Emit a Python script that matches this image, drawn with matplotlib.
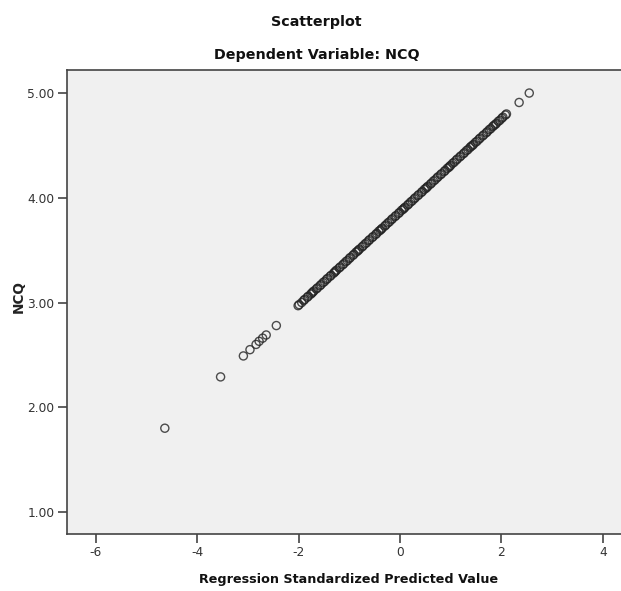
import matplotlib
matplotlib.use("Agg")
import matplotlib.pyplot as plt
from matplotlib import font_manager

# Data
pred_std = [-4.64, -3.54, -3.09, -2.96, -2.84, -2.78, -2.71, -2.64, -2.44,
            -2.01, -1.94, -1.88, -1.81, -1.74, -1.70, -1.63, -1.56, -1.49, -1.43,
            -1.36, -1.29, -1.25, -1.18, -1.11, -1.04, -0.98, -0.91, -0.84, -0.80,
            -0.73, -0.66, -0.60, -0.53, -0.46, -0.39, -0.35, -0.28, -0.21, -0.15,
            -0.08, -0.01, 0.06, 0.10, 0.17, 0.24, 0.30, 0.37, 0.44, 0.51, 0.55,
            0.62, 0.69, 0.75, 0.82, 0.89, 0.96, 1.00, 1.07, 1.13, 1.20, 1.27,
            1.34, 1.40, 1.45, 1.52, 1.58, 1.65, 1.72, 1.79, 1.85, 1.90, 1.97,
            2.03, 2.10, 2.35, 2.55]
ncq = [1.80, 2.29, 2.49, 2.55, 2.60, 2.63, 2.66, 2.69, 2.78,
       2.97, 3.00, 3.03, 3.06, 3.09, 3.11, 3.14, 3.17, 3.20, 3.23,
       3.26, 3.29, 3.31, 3.34, 3.37, 3.40, 3.43, 3.46, 3.49, 3.51,
       3.54, 3.57, 3.60, 3.63, 3.66, 3.69, 3.71, 3.74, 3.77, 3.80,
       3.83, 3.86, 3.89, 3.91, 3.94, 3.97, 4.00, 4.03, 4.06, 4.09, 4.11,
       4.14, 4.17, 4.20, 4.23, 4.26, 4.29, 4.31, 4.34, 4.37, 4.40, 4.43,
       4.46, 4.49, 4.51, 4.54, 4.57, 4.60, 4.63, 4.66, 4.69, 4.71, 4.74,
       4.77, 4.80, 4.91, 5.00]
# additional cases in the dense middle band
pred_std_2 = [-1.99, -1.90, -1.83, -1.76, -1.72, -1.65, -1.58, -1.52, -1.45, -1.38,
              -1.31, -1.27, -1.20, -1.13, -1.07, -1.00, -0.93, -0.87, -0.82, -0.75,
              -0.69, -0.62, -0.55, -0.48, -0.42, -0.37, -0.30, -0.24, -0.17, -0.10,
              -0.03, 0.03, 0.08, 0.15, 0.21, 0.28, 0.35, 0.42, 0.48, 0.53,
              0.60, 0.66, 0.73, 0.80, 0.87, 0.93, 0.98, 1.04, 1.11, 1.18,
              1.25, 1.31, 1.38, 1.43, 1.49, 1.56, 1.63, 1.70, 1.76, 1.83,
              1.88, 1.94, 2.01, 2.08]
ncq_2 = [2.98, 3.02, 3.05, 3.08, 3.10, 3.13, 3.16, 3.19, 3.22, 3.25,
         3.28, 3.30, 3.33, 3.36, 3.39, 3.42, 3.45, 3.48, 3.50, 3.53,
         3.56, 3.59, 3.62, 3.65, 3.68, 3.70, 3.73, 3.76, 3.79, 3.82,
         3.85, 3.88, 3.90, 3.93, 3.96, 3.99, 4.02, 4.05, 4.08, 4.10,
         4.13, 4.16, 4.19, 4.22, 4.25, 4.28, 4.30, 4.33, 4.36, 4.39,
         4.42, 4.45, 4.48, 4.50, 4.53, 4.56, 4.59, 4.62, 4.65, 4.68,
         4.70, 4.73, 4.76, 4.79]
x_ticks = [-6, -4, -2, 0, 2, 4]
x_ticklabels = ["-6", "-4", "-2", "0", "2", "4"]
y_ticks = [1.0, 2.0, 3.0, 4.0, 5.0]
y_ticklabels = ["1.00", "2.00", "3.00", "4.00", "5.00"]

names = {f.name for f in font_manager.fontManager.ttflist}
if "Liberation Sans Narrow" in names:
    cond = "Liberation Sans Narrow"
elif "DejaVu Sans Condensed" in names:
    cond = "DejaVu Sans Condensed"
else:
    cond = "DejaVu Sans"

fig = plt.figure(figsize=(6.21, 5.91), dpi=100)
ax = fig.add_axes([67/621, 57/591, 1 - 67/621, (534-70)/591])
ax.set_facecolor("#f0f0f0")

for xs, ys in [(pred_std, ncq), (pred_std_2, ncq_2)]:
    ax.scatter(xs, ys, s=34, facecolors="none", edgecolors="#222222",
               linewidths=1.0, alpha=0.8, zorder=3)

ax.set_xlim(-6.57, 4.36)
ax.set_ylim(0.79, 5.22)
ax.set_xticks(x_ticks)
ax.set_xticklabels(x_ticklabels)
ax.set_yticks(y_ticks)
ax.set_yticklabels(y_ticklabels)

for s in ["left", "bottom", "top"]:
    ax.spines[s].set_color("#444444")
    ax.spines[s].set_linewidth(1.2)
ax.spines["right"].set_visible(False)

ax.tick_params(axis="both", direction="out", length=6.5, width=1.2, color="#444444",
               labelsize=8.8, labelcolor="#333333", pad=2.5)
for lab in ax.get_xticklabels() + ax.get_yticklabels():
    lab.set_family(cond)

fig.text(316/621, 1 - 22/591, "Scatterplot", ha="center", va="center",
         fontsize=10.3, fontweight="bold", family=cond, color="#111111")
fig.text(317/621, 1 - 55/591, "Dependent Variable: NCQ", ha="center", va="center",
         fontsize=10.3, fontweight="bold", family=cond, color="#111111")
fig.text(349/621, 1 - 579/591, "Regression Standardized Predicted Value", ha="center",
         va="center", fontsize=9.2, fontweight="bold", family=cond, color="#111111")
fig.text(19/621, 1 - 297/591, "NCQ", ha="center", va="center", rotation=90,
         fontsize=9.8, fontweight="bold", family="DejaVu Sans", color="#222222")

fig.savefig("out.png", dpi=100, facecolor="white")
